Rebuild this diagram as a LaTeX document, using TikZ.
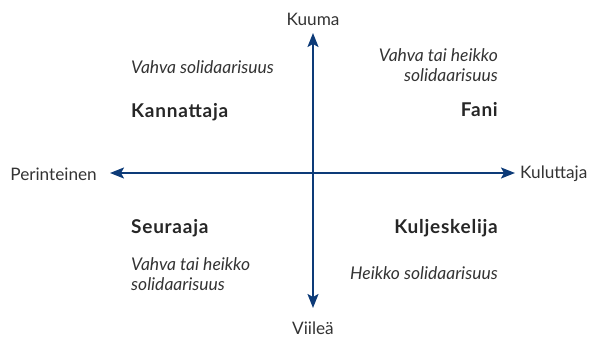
\documentclass[tikz,border=0pt]{standalone}
\usepackage{fontspec}
\setmainfont{Lato}
\usetikzlibrary{arrows.meta}
\definecolor{navy}{HTML}{0D3B78}
\definecolor{txt}{HTML}{333333}
\begin{document}
\begin{tikzpicture}[x=1pt,y=-1pt,
  axis/.style={navy,line width=2pt,-{Stealth[length=14pt,width=11pt,inset=3pt]}},
  lab/.style={text=txt,font=\fontsize{17.2}{20}\selectfont,inner sep=0pt},
  big/.style={text=black!85,font=\fontsize{19}{22}\bfseries\addfontfeature{LetterSpace=4}\selectfont,inner sep=0pt},
  note/.style={text=txt,font=\fontsize{17.5}{20}\itshape\selectfont,inner sep=0pt,align=left}]
\useasboundingbox (0,0) rectangle (592,339);
\coordinate (c) at (313,173);
\coordinate (top) at (313,33);
\coordinate (bot) at (313,308);
\coordinate (left) at (110,173);
\coordinate (right) at (515,173);
\draw[axis] (c) -- (top);
\draw[axis] (c) -- (bot);
\draw[axis] (c) -- (left);
\draw[axis] (c) -- (right);
\node[lab] (kuuma) at (313,19) {Kuuma};
\node[lab] (viilea) at (313,328) {Viileä};
\node[lab,anchor=east] (perint) at (97,174) {Perinteinen};
\node[lab,anchor=west] (kulut) at (520,174) {Kuluttaja};
\node[note,anchor=west] (n1) at (131,67) {Vahva solidaarisuus};
\node[big,anchor=west] (kann) at (131,112) {Kannattaja};
\node[note,anchor=east,align=right] (n2) at (498,65) {Vahva tai heikko\\solidaarisuus};
\node[big,anchor=east] (fani) at (498,110) {Fani};
\node[big,anchor=west] (seur) at (131,228) {Seuraaja};
\node[note,anchor=west] (n3) at (131,274) {Vahva tai heikko\\solidaarisuus};
\node[big,anchor=east] (kulj) at (498,228) {Kuljeskelija};
\node[note,anchor=east] (n4) at (498,273) {Heikko solidaarisuus};
\end{tikzpicture}
\end{document}
